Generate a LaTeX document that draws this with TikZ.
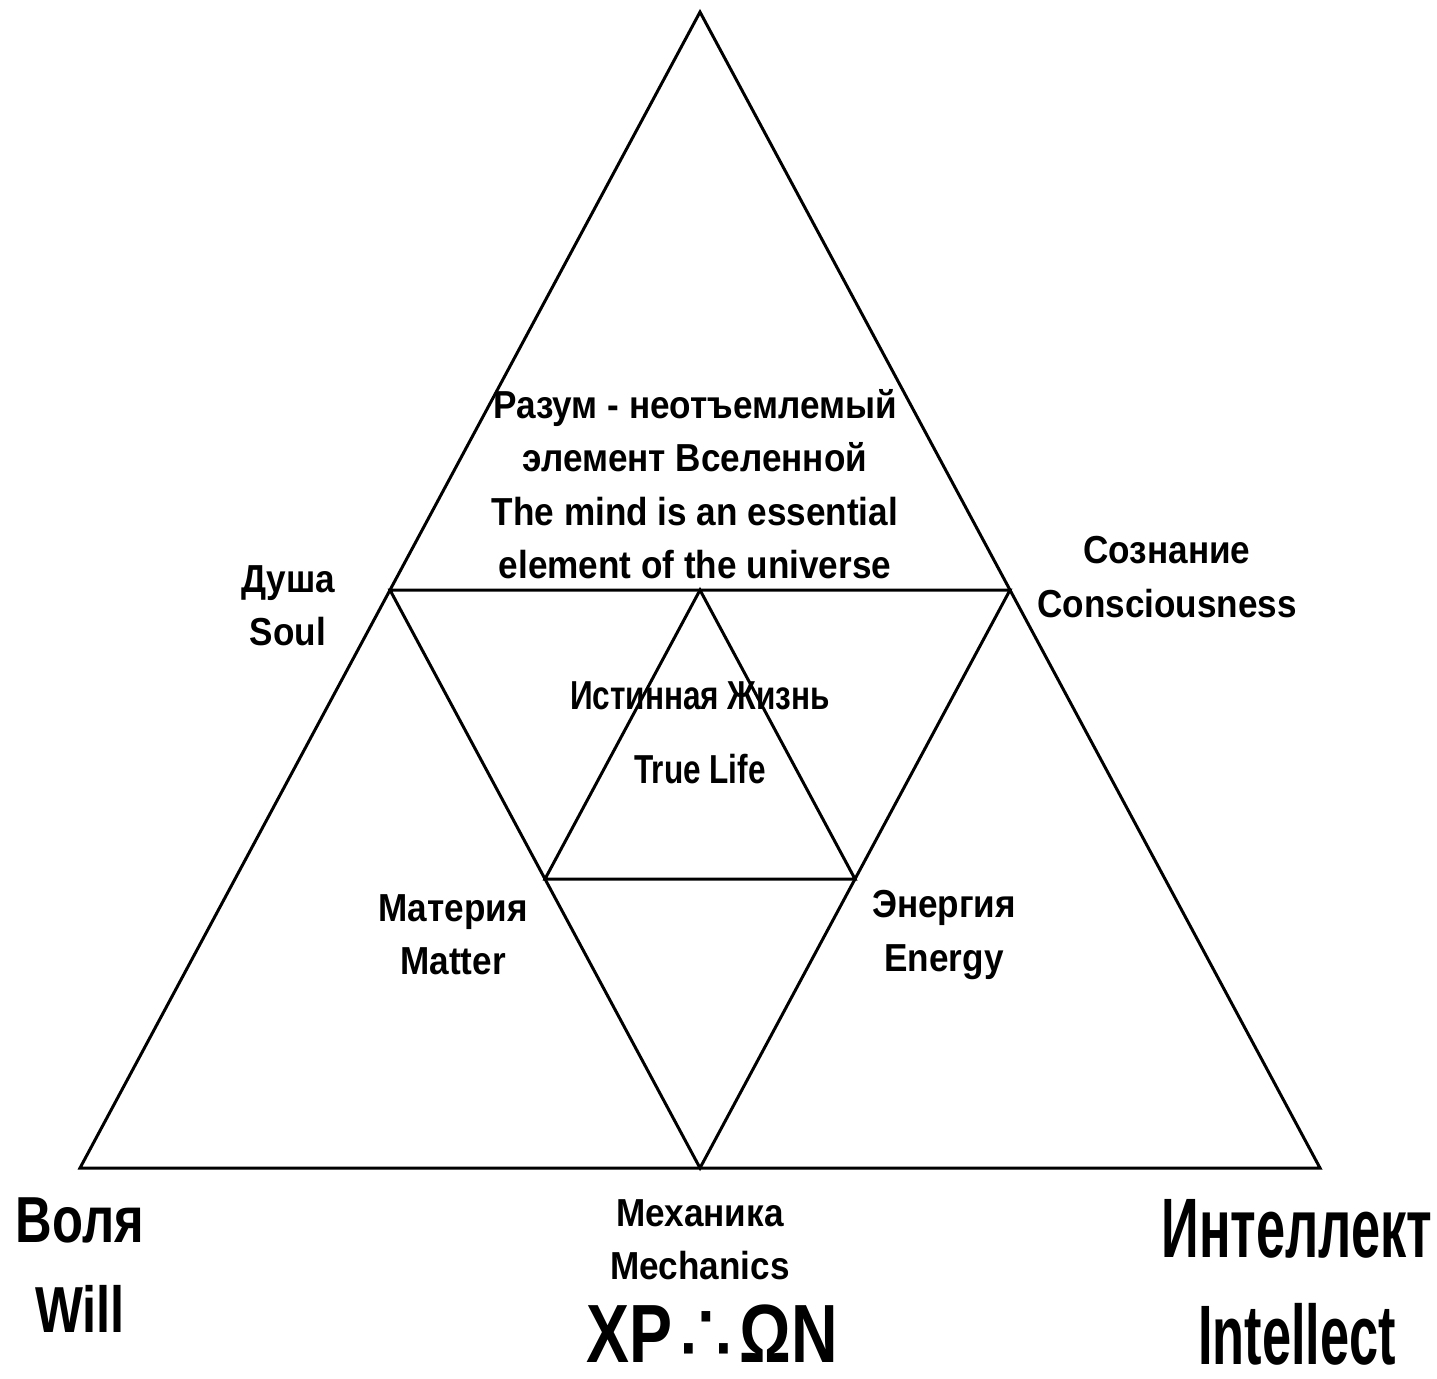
\documentclass[tikz,border=0pt]{standalone}
\usepackage{fontspec}
\setmainfont{Liberation Sans}[FakeStretch=0.9]
\newfontfamily\midfont{Liberation Sans}[FakeStretch=0.78]
\newfontfamily\narrowfont{Liberation Sans}[FakeStretch=0.62]
\newfontfamily\symfont{DejaVu Sans}
\usetikzlibrary{calc}

\tikzset{
  edge/.style={line width=0.85pt, line join=miter},
  lbl/.style={font=\bfseries\fontsize{11.1}{15.2}\selectfont, align=center, inner sep=0pt},
  biglbl/.style={font=\narrowfont\bfseries\fontsize{22}{30}\selectfont, align=center, inner sep=0pt}
}

\begin{document}
\begin{tikzpicture}[x=0.01cm, y=-0.01cm]
  \useasboundingbox (0,0) rectangle (1437,1378);

  % ---------- corners of the big triangle ----------
  \coordinate (apex) at (700,12);
  \coordinate (wl)   at (80,1168);
  \coordinate (wr)   at (1320,1168);

  % ---------- midpoints ----------
  \coordinate (ml) at ($(apex)!0.5!(wl)$);
  \coordinate (mr) at ($(apex)!0.5!(wr)$);
  \coordinate (mb) at ($(wl)!0.5!(wr)$);
  \coordinate (it) at ($(ml)!0.5!(mr)$);
  \coordinate (il) at ($(ml)!0.5!(mb)$);
  \coordinate (ir) at ($(mr)!0.5!(mb)$);

  % ---------- triangles ----------
  \draw[edge] (apex) -- (wl) -- (wr) -- cycle;
  \draw[edge] (ml) -- (mr) -- (mb) -- cycle;
  \draw[edge] (it) -- (il) -- (ir) -- cycle;

  % ---------- labels ----------
  \node[lbl] (mind) at (695,484) {Разум - неотъемлемый\\элемент Вселенной\\The mind is an essential\\element of the universe};
  \node[lbl] (soul) at (288,606) {Душа\\Soul};
  \node[lbl] (consc) at (1167,577) {Сознание\\Consciousness};
  \node[lbl, font=\midfont\bfseries\fontsize{11.5}{21}\selectfont] (life) at (700,733) {Истинная Жизнь\\True Life};
  \node[lbl] (matter) at (453,935) {Материя\\Matter};
  \node[lbl] (energy) at (944,935) {Энергия\\Energy};
  \node[lbl] (mech) at (700,1240) {Механика\\Mechanics};

  \node[biglbl, font=\midfont\bfseries\fontsize{18.5}{25.6}\selectfont] (will) at (80,1265) {Воля\\Will};
  \node[biglbl, font=\narrowfont\bfseries\fontsize{24}{30.4}\selectfont] (intel) at (1297,1282) {Интеллект\\Intellect};
  \node[biglbl, font=\midfont\bfseries\fontsize{23.5}{28}\selectfont] (chron) at (712,1334) {XP\kern2pt{\symfont\mdseries\fontsize{24}{24}\selectfont∴}\kern2ptΩN};
\end{tikzpicture}
\end{document}
